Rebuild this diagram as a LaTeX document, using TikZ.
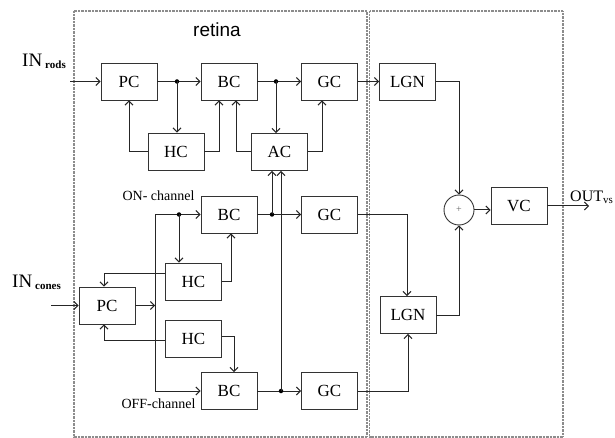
\documentclass[tikz,border=0pt]{standalone}
\usepackage{fontspec}
\setmainfont{Liberation Serif}
\newfontfamily\arialf{Liberation Sans}
\usetikzlibrary{arrows.meta,calc}
\begin{document}
\begin{tikzpicture}[x=1pt,y=-1pt,
  box/.style={draw=black!80,line width=0.9pt,minimum width=56pt,minimum height=37pt,inner sep=0pt,font=\fontsize{17}{17}\selectfont},
  conn/.style={draw=black!85,line width=1pt,-{Straight Barb[length=4pt,width=8pt]}},
  wire/.style={draw=black!85,line width=1pt},
  jdot/.style={circle,fill=black,inner sep=0pt,minimum size=4.5pt},
  frame/.style={draw=black!45,line width=1.3pt,dash pattern=on 0.7pt off 0.7pt},
  lbl/.style={inner sep=0pt},
]
\useasboundingbox (0,0) rectangle (615,438);
% frames
\draw[frame] (74,11) rectangle (367,437);
\draw[frame] (369.5,11) rectangle (563,437);
% rods pathway
\node[box] (PCr) at (129,81.5) {PC};
\node[box] (BCr) at (229,81.5) {BC};
\node[box] (GCr) at (329.5,81.5) {GC};
\node[box] (LGNa) at (407.5,81.5) {LGN};
\node[box] (HCr) at (176,151.5) {HC};
\node[box] (ACr) at (279.5,152) {AC};
% cones pathway
\node[box] (BCon) at (229,214.5) {BC};
\node[box] (GCon) at (329.5,214.5) {GC};
\node[box] (HCa) at (193.5,281.5) {HC};
\node[box] (PCc) at (107,305.5) {PC};
\node[box] (HCb) at (193.5,338.5) {HC};
\node[box] (BCoff) at (229,391) {BC};
\node[box] (GCoff) at (329.5,391) {GC};
\node[box] (LGNb) at (408,315) {LGN};
\node[circle,draw=black!80,line width=0.9pt,minimum size=30pt,inner sep=0pt,text=black!60] (sum) at (459,210) {\fontsize{10}{10}\selectfont +};
\node[box] (VC) at (519,206) {VC};
% coordinates
\coordinate (inr) at (70,81.5);
\coordinate (inc) at (51,305.5);
\coordinate (vtop) at (155,214.5);
\coordinate (vbot) at (155,391);
\coordinate (outc) at (589,206);
% connectors rods
\draw[conn] (inr) -- (PCr.west);
\draw[conn] (PCr.east) -- (BCr.west);
\node[jdot] (d1) at (177,81.5) {};
\draw[conn] (d1.center) -- (d1.center |- HCr.north);
\draw[conn] (HCr.west) -| (PCr.south);
\draw[conn] (HCr.east) -| ([xshift=-10pt]BCr.south);
\draw[conn] (BCr.east) -- (GCr.west);
\node[jdot] (d2) at (276,81.5) {};
\draw[conn] (d2.center) -- (d2.center |- ACr.north);
\draw[conn] (ACr.west) -| ([xshift=7pt]BCr.south);
\draw[conn] (ACr.east) -| ([xshift=-7.5pt]GCr.south);
\draw[conn] (GCr.east) -- (LGNa.west);
\draw[conn] (LGNa.east) -| (sum.north);
\draw[conn] (sum.east) -- (sum.east -| VC.west);
\draw[conn] (VC.east) -- (outc);
% connectors cones
\draw[conn] (inc) -- (PCc.west);
\draw[conn] (PCc.east) -- (PCc.east -| vtop);
\draw[wire] (vtop) -- (vbot);
\draw[conn] (vtop) -- (BCon.west);
\node[jdot] (d3) at (179,214.5) {};
\draw[conn] (d3.center) -- (d3.center |- HCa.north);
\draw[conn] (HCa.east) -| ([xshift=2pt]BCon.south);
\draw[conn] ([yshift=8pt]HCa.west) -| ([xshift=-3pt]PCc.north);
\draw[conn] ([yshift=-1.5pt]HCb.west) -| ([xshift=-3pt]PCc.south);
\draw[conn] ([yshift=2.5pt]HCb.east) -| ([xshift=5pt]BCoff.north);
\draw[conn] (vbot) -- (BCoff.west);
\draw[conn] (BCoff.east) -- (GCoff.west);
\node[jdot] (d4) at (281,391) {};
\draw[conn] (d4.center) -- (d4.center |- ACr.south);
\draw[conn] (BCon.east) -- (GCon.west);
\node[jdot] (d5) at (272,214.5) {};
\draw[conn] (d5.center) -- (d5.center |- ACr.south);
\draw[conn] (GCon.east) -| ([xshift=-1pt]LGNb.north);
\draw[conn] (GCoff.east) -| (LGNb.south);
\draw[conn] (LGNb.east) -| (sum.south);
% labels
\node[font=\arialf\fontsize{19}{19}\selectfont] (ret) at (217,30) {retina};
\node[lbl,anchor=base west] (inrl) at (22,67) {\fontsize{19}{19}\selectfont IN\hspace{3pt}\raisebox{-2pt}{\fontsize{11}{11}\selectfont\bfseries rods}};
\node[lbl,anchor=base west] (incl) at (12,287) {\fontsize{19}{19}\selectfont IN\hspace{3pt}\raisebox{-2pt}{\fontsize{11}{11}\selectfont\bfseries cones}};
\node[lbl,font=\fontsize{14}{14}\selectfont] (onl) at (158.5,196) {ON- channel};
\node[lbl,font=\fontsize{14}{14}\selectfont] (offl) at (158.5,404) {OFF-channel};
\node[lbl,anchor=base west] (outl) at (570,202) {\fontsize{16}{16}\selectfont OUT\raisebox{-1.5pt}{\fontsize{11}{11}\selectfont vs}};
\end{tikzpicture}
\end{document}
